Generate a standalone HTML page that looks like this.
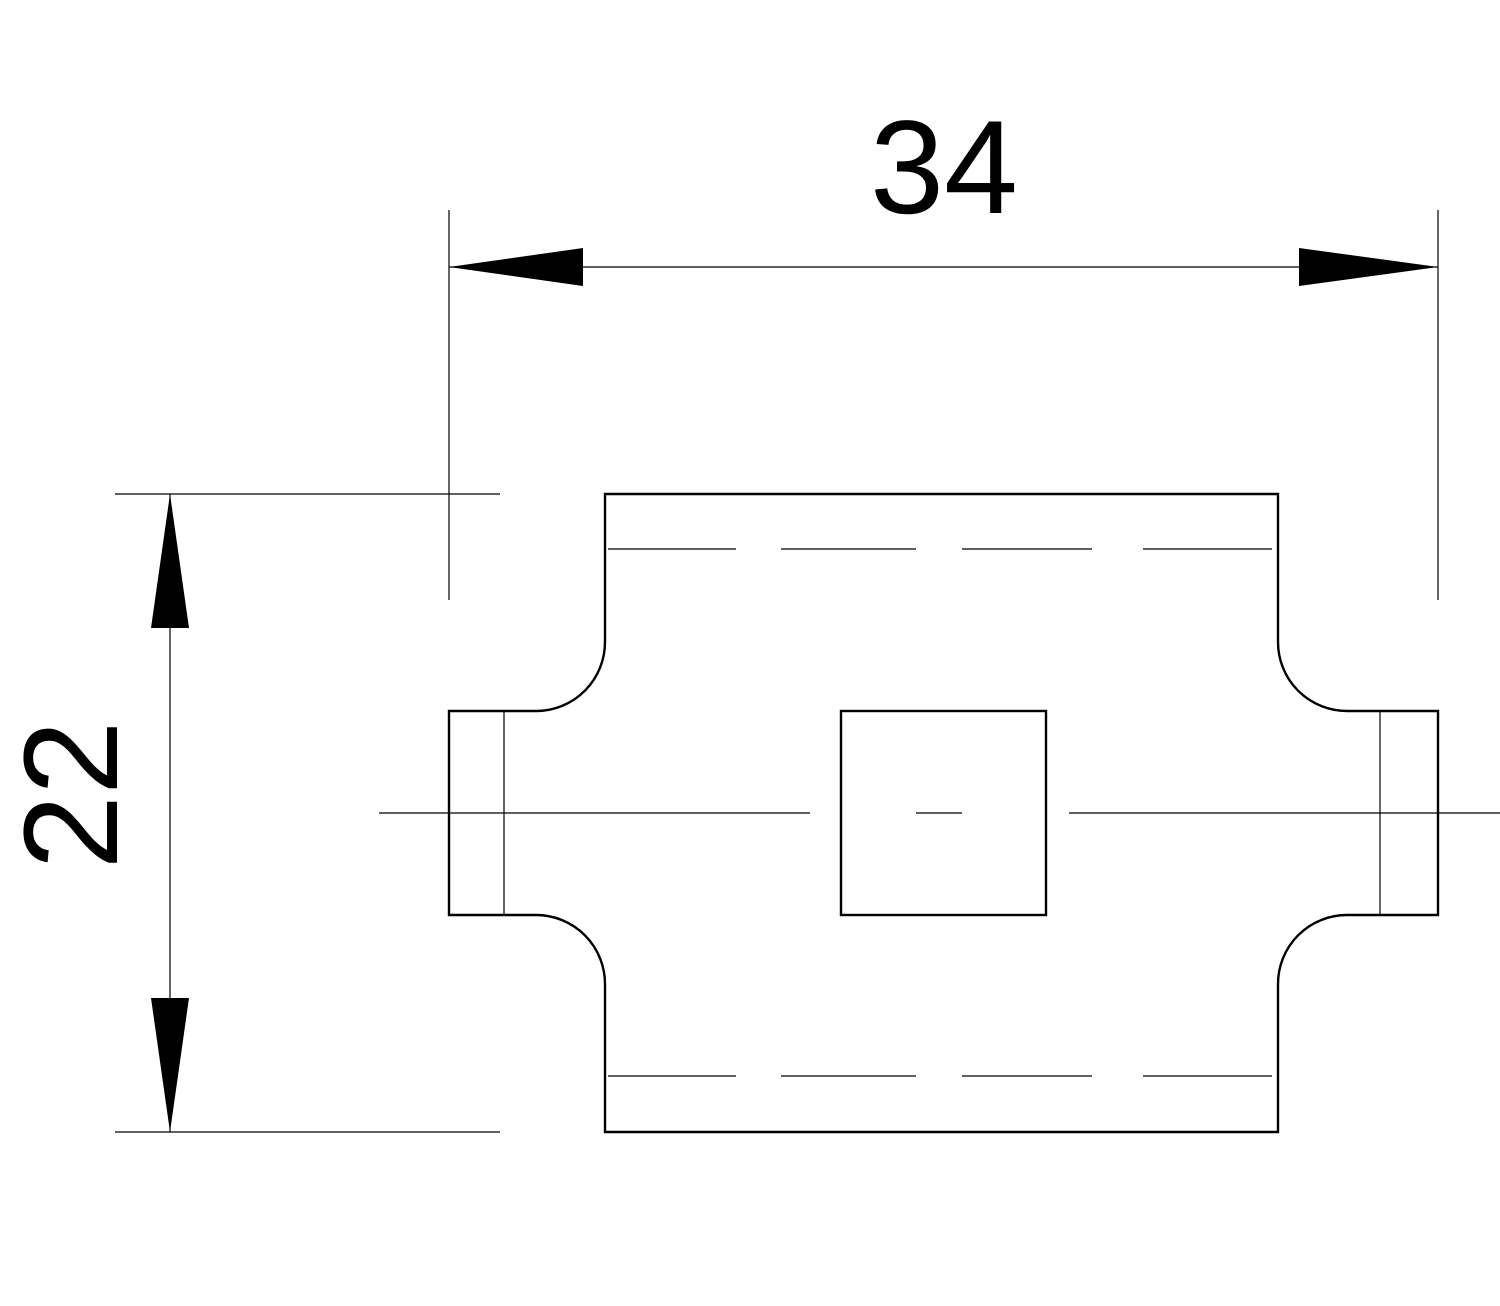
<!DOCTYPE html>
<html><head><meta charset="utf-8"><style>html,body{margin:0;padding:0;background:#fff}svg{display:block}</style></head>
<body>
<svg width="1500" height="1306" viewBox="0 0 1500 1306" xmlns="http://www.w3.org/2000/svg">
<g stroke="#000" fill="none" stroke-width="1.2">
<line x1="449" y1="210" x2="449" y2="600"/>
<line x1="1438" y1="210" x2="1438" y2="600"/>
<line x1="449" y1="267" x2="1438" y2="267"/>
<line x1="115" y1="494" x2="500" y2="494"/>
<line x1="115" y1="1132" x2="500" y2="1132"/>
<line x1="170" y1="494" x2="170" y2="1132"/>
<line x1="379" y1="813" x2="810" y2="813"/>
<line x1="916" y1="813" x2="962" y2="813"/>
<line x1="1069" y1="813" x2="1500" y2="813"/>
<line x1="504" y1="711" x2="504" y2="915"/>
<line x1="1380" y1="711" x2="1380" y2="915"/>
<g stroke-dasharray="128 45 135 46 130 51 129 100">
<line x1="608" y1="549" x2="1272" y2="549"/>
<line x1="608" y1="1076" x2="1272" y2="1076"/>
</g>
</g>
<g stroke="#000" fill="none" stroke-width="2.4">
<path d="M605 494 H1278 V642 A69 69 0 0 0 1347 711 H1438 V915 H1347 A69 69 0 0 0 1278 984 V1132 H605 V984 A69 69 0 0 0 537 915 H449 V711 H537 A69 69 0 0 0 605 642 Z"/>
<rect x="841" y="711" width="205" height="204"/>
</g>
<g fill="#000">
<polygon points="449,267 583,248 583,286"/>
<polygon points="1438,267 1299,248 1299,286"/>
<polygon points="170,494 151,628 189,628"/>
<polygon points="170,1132 151,998 189,998"/>
</g>
<text x="944" y="213" font-family="Liberation Sans, sans-serif" font-size="133" text-anchor="middle">34</text>
<text transform="translate(117,795) rotate(-90)" font-family="Liberation Sans, sans-serif" font-size="134" text-anchor="middle">22</text>
</svg>
</body></html>
